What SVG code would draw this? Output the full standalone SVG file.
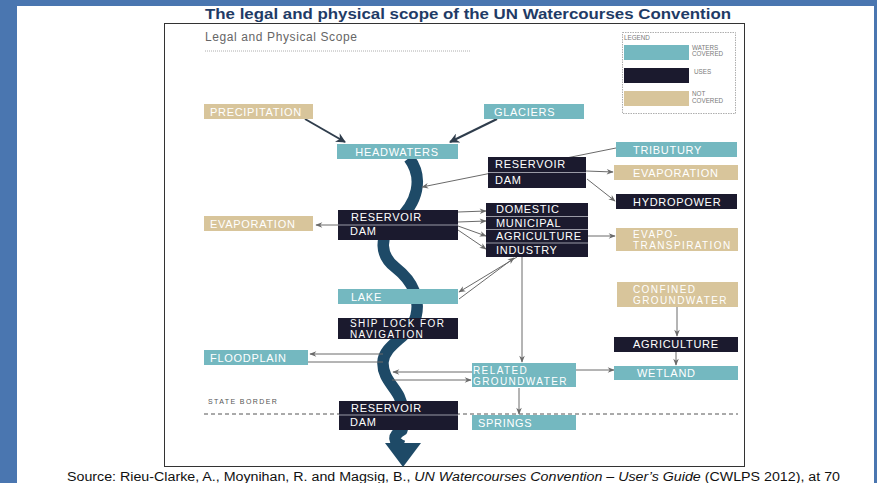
<svg xmlns="http://www.w3.org/2000/svg" width="877" height="483" viewBox="0 0 877 483">
<defs>
<style>
.teal{fill:#74b8c0}
.tan{fill:#d8c59b}
.dark{fill:#1b1a2e}
.lbl{font-family:"Liberation Sans",Arial,sans-serif;font-size:11px;letter-spacing:0.7px;fill:#ffffff}
.lbl2{font-family:"Liberation Sans",Arial,sans-serif;font-size:10px;letter-spacing:1.4px;fill:#ffffff}
.lblc{font-family:"Liberation Sans",Arial,sans-serif;font-size:11px;letter-spacing:0.7px;fill:#ffffff;text-anchor:middle}
.sep{stroke:#9a9aa6;stroke-width:1}
.con{stroke:#6a6a6a;stroke-width:1;fill:none}
.conk{stroke:#2f3d4c;stroke-width:2;fill:none}
.leg{font-family:"Liberation Sans",Arial,sans-serif;font-size:6.3px;fill:#7a7a7a}
</style>
<marker id="ah" viewBox="0 0 10 10" refX="9" refY="5" markerWidth="8" markerHeight="7" markerUnits="userSpaceOnUse" orient="auto"><path d="M0,1 L10,5 L0,9 L3,5 z" fill="#6a6a6a"/></marker>
<marker id="ahk" viewBox="0 0 10 10" refX="9" refY="5" markerWidth="10" markerHeight="10" markerUnits="userSpaceOnUse" orient="auto"><path d="M0,0 L10,5 L0,10 L3,5 z" fill="#2f3d4c"/></marker>
</defs>
<rect x="0" y="0" width="877" height="483" fill="#4a76b0"/>
<rect x="17" y="6" width="857" height="477" fill="#ffffff"/>
<text x="205" y="19" font-family="'Liberation Sans',Arial,sans-serif" font-size="15" font-weight="bold" fill="#1f3b66" textLength="526" lengthAdjust="spacingAndGlyphs">The legal and physical scope of the UN Watercourses Convention</text>
<rect x="164.5" y="23.5" width="580" height="443" fill="#ffffff" stroke="#333" stroke-width="1"/>
<text x="205" y="41" font-family="'Liberation Sans',Arial,sans-serif" font-size="12" letter-spacing="0.6" fill="#666">Legal and Physical Scope</text>
<line x1="205" y1="51" x2="470" y2="51" stroke="#999" stroke-width="0.8" stroke-dasharray="1 1"/>
<g id="legend">
<rect x="622.5" y="32.5" width="113" height="81" fill="none" stroke="#999" stroke-width="0.8" stroke-dasharray="1.5 1"/>
<text class="leg" x="624" y="39.5" font-size="7">LEGEND</text>
<rect class="teal" x="624" y="45" width="65" height="15"/>
<text class="leg" x="692" y="49.5">WATERS</text>
<text class="leg" x="692" y="56">COVERED</text>
<rect class="dark" x="624" y="68" width="65" height="15"/>
<text class="leg" x="694" y="74">USES</text>
<rect class="tan" x="624" y="91" width="65" height="15"/>
<text class="leg" x="692" y="96">NOT</text>
<text class="leg" x="692" y="102.5">COVERED</text>
</g>
<g id="river">
<path d="M409 158 C424 178,418 203,396 222 C378 236,380 256,396 268 C414 282,420 300,416 316 C412 336,384 344,383 362 C382 382,402 390,402 408 C402 420,404 426,402 430 C392 436,393 442,403 446" fill="none" stroke="#1e4a67" stroke-width="11.5"/>
<polygon points="385,443 421,443 403,467" fill="#1e4a67"/>
</g>
<line x1="204" y1="414" x2="738" y2="414" stroke="#555" stroke-width="1" stroke-dasharray="4 3"/>
<text x="208" y="404" font-family="'Liberation Sans',Arial,sans-serif" font-size="7" letter-spacing="1.4" fill="#555">STATE BORDER</text>
<g id="connectors">
<line class="conk" x1="305" y1="119" x2="345" y2="142" marker-end="url(#ahk)"/>
<line class="conk" x1="497" y1="119" x2="450" y2="142" marker-end="url(#ahk)"/>
<line class="con" x1="616" y1="148" x2="422" y2="187" marker-end="url(#ah)"/>
<line class="con" x1="586" y1="171" x2="613" y2="172" marker-end="url(#ah)"/>
<line class="con" x1="587" y1="179" x2="615" y2="201" marker-end="url(#ah)"/>
<line class="con" x1="338" y1="225" x2="316" y2="225" marker-end="url(#ah)"/>
<line class="con" x1="458" y1="212" x2="486" y2="211" marker-end="url(#ah)"/>
<line class="con" x1="458" y1="222" x2="486" y2="221" marker-end="url(#ah)"/>
<line class="con" x1="458" y1="226" x2="486" y2="236" marker-end="url(#ah)"/>
<line class="con" x1="458" y1="230" x2="486" y2="249" marker-end="url(#ah)"/>
<line class="con" x1="588" y1="236" x2="615" y2="236" marker-end="url(#ah)"/>
<line class="con" x1="517" y1="257" x2="459" y2="292" marker-end="url(#ah)"/>
<line class="con" x1="459" y1="299" x2="514" y2="258" marker-end="url(#ah)"/>
<line class="con" x1="522" y1="257" x2="522" y2="362" marker-end="url(#ah)"/>
<line class="con" x1="383" y1="354" x2="310" y2="354" marker-end="url(#ah)"/>
<line class="con" x1="308" y1="362" x2="383" y2="362"/>
<line class="con" x1="472" y1="372" x2="393" y2="372" marker-end="url(#ah)"/>
<line class="con" x1="392" y1="380" x2="471" y2="380" marker-end="url(#ah)"/>
<line class="con" x1="576" y1="370" x2="614" y2="370" marker-end="url(#ah)"/>
<line class="con" x1="519" y1="388" x2="519" y2="414" marker-end="url(#ah)"/>
<line class="con" x1="677" y1="307" x2="677" y2="336" marker-end="url(#ah)"/>
<line class="con" x1="676" y1="352" x2="676" y2="365" marker-end="url(#ah)"/>
</g>
<g id="precipitation"><rect class="tan" x="204" y="104" width="109" height="15"/><text class="lbl" x="210" y="115.5">PRECIPITATION</text></g>
<g id="glaciers"><rect class="teal" x="484" y="104" width="100" height="15"/><text class="lbl" x="494" y="115.5">GLACIERS</text></g>
<g id="headwaters"><rect class="teal" x="337" y="144" width="121" height="15"/><text class="lblc" x="397" y="155.5">HEADWATERS</text></g>
<g id="reservoir-top"><rect class="dark" x="488" y="157" width="98" height="31"/><line class="sep" x1="488" y1="172.5" x2="586" y2="172.5"/><text class="lbl" x="495" y="168">RESERVOIR</text><text class="lbl" x="495" y="184">DAM</text></g>
<g id="tributury"><rect class="teal" x="616" y="142" width="121" height="15"/><text class="lbl" x="633" y="153.5">TRIBUTURY</text></g>
<g id="evaporation-right"><rect class="tan" x="614" y="165" width="124" height="15"/><text class="lbl" x="633" y="176.5">EVAPORATION</text></g>
<g id="hydropower"><rect class="dark" x="616" y="194" width="121" height="15"/><text class="lbl" x="633" y="205.5">HYDROPOWER</text></g>
<g id="evaporation-left"><rect class="tan" x="204" y="216" width="109" height="15"/><text class="lbl" x="210" y="227.5">EVAPORATION</text></g>
<g id="reservoir-mid"><rect class="dark" x="338" y="210" width="120" height="30"/><line class="sep" x1="338" y1="225" x2="458" y2="225"/><text class="lbl" x="351" y="220.5">RESERVOIR</text><text class="lbl" x="350" y="235">DAM</text></g>
<g id="uses"><rect class="dark" x="486" y="203" width="102" height="54"/><line class="sep" x1="486" y1="216.5" x2="588" y2="216.5"/><line class="sep" x1="486" y1="229.5" x2="588" y2="229.5"/><line class="sep" x1="486" y1="243" x2="588" y2="243"/>
<text class="lbl" x="496" y="213">DOMESTIC</text><text class="lbl" x="496" y="226.5">MUNICIPAL</text><text class="lbl" x="496" y="240">AGRICULTURE</text><text class="lbl" x="496" y="253.5">INDUSTRY</text></g>
<g id="evapotranspiration"><rect class="tan" x="616" y="228" width="122" height="23"/><text class="lbl2" x="633" y="238">EVAPO-</text><text class="lbl2" x="633" y="248.5">TRANSPIRATION</text></g>
<g id="lake"><rect class="teal" x="338" y="289" width="120" height="15"/><text class="lbl" x="351" y="300.5">LAKE</text></g>
<g id="shiplock"><rect class="dark" x="338" y="318" width="120" height="21"/><text class="lbl2" x="350" y="327">SHIP LOCK FOR</text><text class="lbl2" x="350" y="337.5">NAVIGATION</text></g>
<g id="floodplain"><rect class="teal" x="204" y="350" width="104" height="15"/><text class="lbl" x="210" y="361.5">FLOODPLAIN</text></g>
<g id="related-groundwater"><rect class="teal" x="472" y="363" width="104" height="24"/><text class="lbl2" x="473" y="373.5">RELATED</text><text class="lbl2" x="473" y="384.5">GROUNDWATER</text></g>
<g id="confined-groundwater"><rect class="tan" x="617" y="282" width="121" height="25"/><text class="lbl2" x="633" y="292.5">CONFINED</text><text class="lbl2" x="633" y="303.5">GROUNDWATER</text></g>
<g id="agriculture-right"><rect class="dark" x="614" y="337" width="124" height="15"/><text class="lbl" x="633" y="348">AGRICULTURE</text></g>
<g id="wetland"><rect class="teal" x="614" y="366" width="124" height="14"/><text class="lbl" x="637" y="377">WETLAND</text></g>
<g id="reservoir-bottom"><rect class="dark" x="339" y="401" width="119" height="29"/><line class="sep" x1="339" y1="415" x2="458" y2="415"/><text class="lbl" x="351" y="411.5">RESERVOIR</text><text class="lbl" x="350" y="425.5">DAM</text></g>
<g id="springs"><rect class="teal" x="472" y="415" width="104" height="15"/><text class="lbl" x="478" y="426.5">SPRINGS</text></g>
<text x="67" y="481" font-family="'Liberation Sans',Arial,sans-serif" font-size="12" fill="#111" textLength="773" lengthAdjust="spacingAndGlyphs">Source: Rieu-Clarke, A., Moynihan, R. and Magsig, B., <tspan font-style="italic">UN Watercourses Convention – User’s Guide</tspan> (CWLPS 2012), at 70</text>
</svg>
